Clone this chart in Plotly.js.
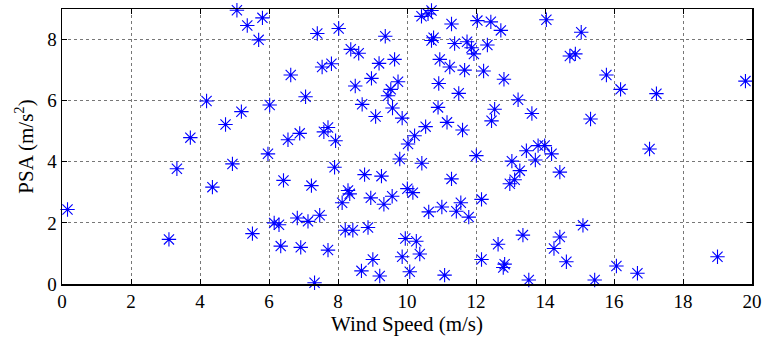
<!DOCTYPE html>
<html>
<head>
<meta charset="utf-8">
<script src="https://cdn.plot.ly/plotly-3.0.1.min.js"></script>
<style>html,body{margin:0;padding:0;background:#fff;}#chart{width:762px;height:343px;}</style>
</head>
<body>
<div id="chart"></div>
<script>
const windSpeed = [0.16,3.10,3.33,3.72,4.19,4.36,4.74,4.94,5.07,5.20,5.37,5.52,5.70,5.81,5.97,6.02,6.15,6.29,6.34,6.42,6.55,6.63,6.82,6.89,6.92,7.06,7.13,7.23,7.32,7.40,7.47,7.54,7.59,7.71,7.71,7.81,7.90,7.93,8.02,8.12,8.21,8.29,8.34,8.37,8.43,8.50,8.60,8.68,8.70,8.77,8.87,8.95,8.97,9.01,9.09,9.19,9.21,9.26,9.33,9.37,9.45,9.53,9.57,9.58,9.64,9.74,9.79,9.86,9.86,9.95,10.01,10.03,10.08,10.17,10.22,10.27,10.37,10.42,10.43,10.54,10.61,10.63,10.71,10.71,10.77,10.90,10.92,10.95,11.01,11.09,11.16,11.24,11.29,11.29,11.38,11.43,11.50,11.56,11.61,11.67,11.74,11.79,11.87,11.94,12.01,12.04,12.16,12.16,12.22,12.33,12.43,12.45,12.54,12.64,12.72,12.79,12.81,12.83,12.98,13.04,13.12,13.22,13.27,13.36,13.46,13.53,13.62,13.72,13.80,13.99,14.04,14.19,14.26,14.43,14.43,14.62,14.72,14.88,15.05,15.10,15.32,15.44,15.78,16.07,16.19,16.68,17.03,17.23,19.00,19.81];
const psa = [2.44,1.46,3.77,4.79,5.99,3.17,5.22,3.93,8.96,5.64,8.46,1.65,7.99,8.71,4.26,5.86,2.00,1.94,1.24,3.39,4.72,6.84,2.16,4.93,1.20,6.13,2.05,3.22,0.04,8.20,2.25,7.10,4.98,5.12,1.11,7.21,3.82,4.69,8.36,2.66,1.76,3.06,2.95,7.68,1.76,6.48,7.55,0.43,5.88,3.58,1.85,2.82,6.73,0.80,5.48,7.22,0.26,3.53,2.61,8.11,6.16,6.37,2.87,5.76,7.35,6.62,4.09,5.43,0.89,1.49,3.12,4.58,0.40,2.99,4.85,1.40,0.98,8.76,3.95,5.15,8.84,2.36,8.95,7.97,8.06,5.78,6.56,7.35,2.52,0.29,5.29,7.10,8.51,3.44,7.87,2.38,6.24,2.66,5.04,7.00,7.93,2.19,7.73,7.53,4.20,8.62,2.77,0.80,6.97,7.82,8.58,5.34,5.72,1.30,8.30,0.54,6.70,0.65,3.28,4.02,3.41,6.03,3.71,1.60,4.36,0.13,5.58,4.06,4.53,4.53,8.65,4.26,1.16,3.66,1.54,0.73,7.46,7.53,8.24,1.92,5.40,0.13,6.84,0.59,6.37,0.35,4.42,6.23,0.89,6.64];
const xTicks = [0,2,4,6,8,10,12,14,16,18,20];
const yTicks = [0,2,4,6,8];

const trace = {
  x: windSpeed, y: psa, type: 'scatter', mode: 'markers',
  marker: {symbol: 'asterisk-open', size: 12, color: '#0000ff', line: {color: '#1a1aff', width: 1.1}},
  hoverinfo: 'skip', cliponaxis: false
};
const fontFam = 'Liberation Serif';
const axisCommon = {
  showline: true, linecolor: '#000', linewidth: 1.5, mirror: 'ticks',
  ticks: 'inside', ticklen: 5, tickwidth: 1, tickcolor: '#000',
  showgrid: true, gridcolor: '#777', griddash: 'dot', gridwidth: 1,
  zeroline: false, tickfont: {family: fontFam, size: 19, color: '#000'}, fixedrange: true
};
const layout = {
  width: 762, height: 343,
  margin: {l: 62, r: 10, t: 9, b: 59},
  paper_bgcolor: '#fff', plot_bgcolor: '#fff',
  showlegend: false,
  font: {family: fontFam, color: '#000'},
  xaxis: Object.assign({}, axisCommon, {
    range: [0, 20], tickvals: xTicks, ticktext: xTicks.map(String),
    title: {text: 'Wind Speed (m/s)', font: {family: fontFam, size: 21, color: '#000'}, standoff: 4}
  }),
  yaxis: Object.assign({}, axisCommon, {
    range: [0, 9], tickvals: yTicks, ticktext: yTicks.map(String),
    title: {text: 'PSA (m/s<sup>2</sup>)', font: {family: fontFam, size: 21, color: '#000'}, standoff: 8}
  })
};
Plotly.newPlot('chart', [trace], layout, {staticPlot: true, displayModeBar: false});
</script>
</body>
</html>
